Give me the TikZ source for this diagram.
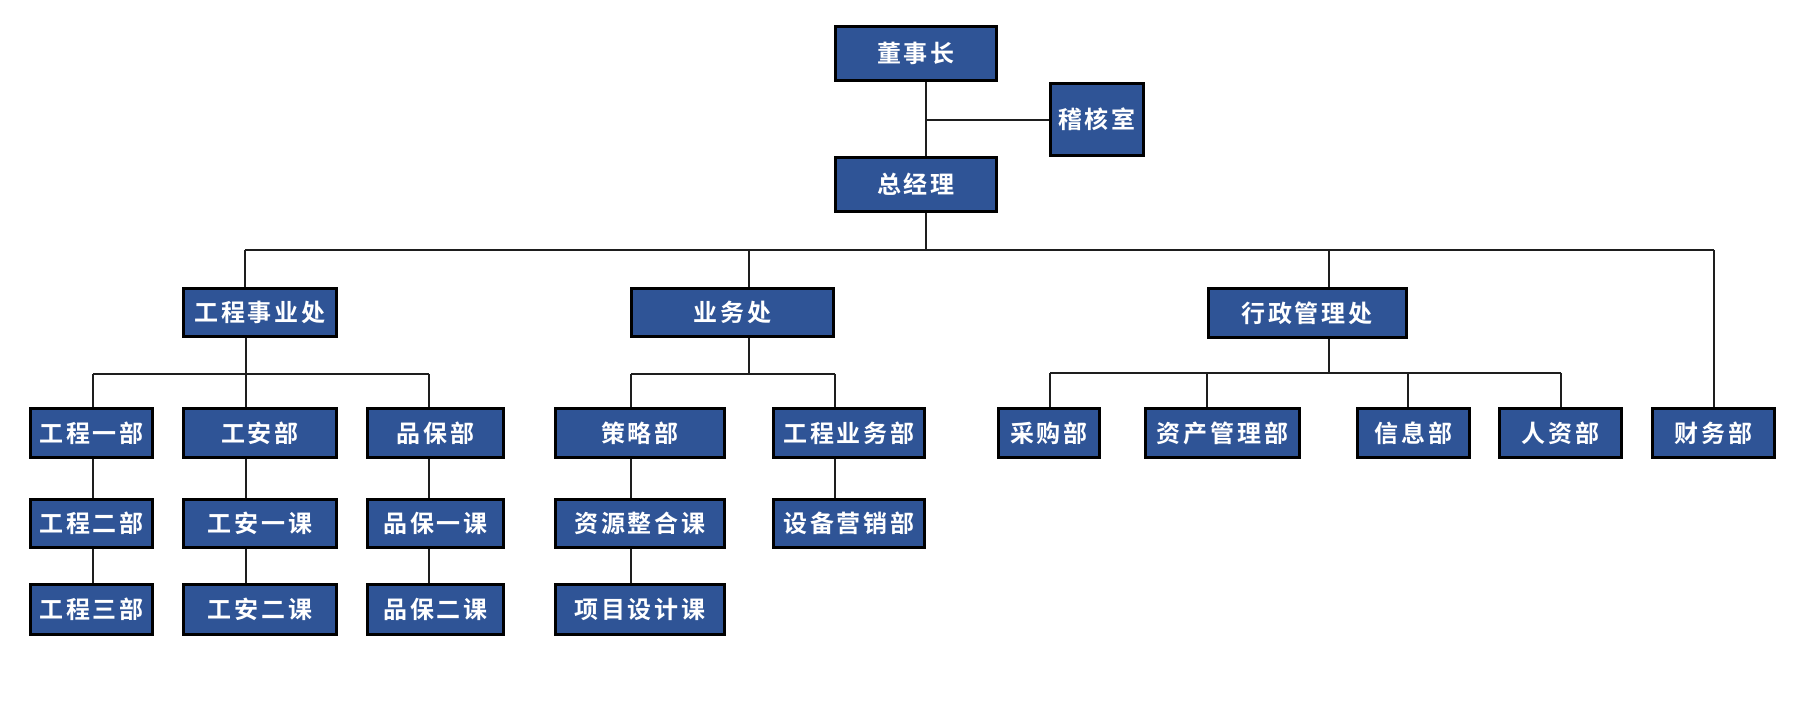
\documentclass[tikz,border=0pt]{standalone}
\usepackage{fontspec}
\newfontfamily\cjk{Noto Sans CJK SC Bold}[LetterSpace=12]
\definecolor{boxblue}{RGB}{47,84,150}
\definecolor{linecol}{RGB}{30,30,30}
\begin{document}
\begin{tikzpicture}[x=0.5pt,y=-0.5pt,
  box/.style={draw=black, line width=1.5pt, fill=boxblue, text=white, inner sep=0pt,
    font=\cjk\fontsize{12pt}{13pt}\selectfont, anchor=center},
  link/.style={draw=linecol, line width=1pt}]
\useasboundingbox (0,0) rectangle (1796,704);
\newcommand\bx[6]{\node[box, minimum width={(#4-3)*0.5pt}, minimum height={(#5-3)*0.5pt}] (#1) at (#2,#3) {#6};}
% top
\bx{ceo}{916}{53.5}{164}{57}{董事长}
\bx{audit}{1097}{119.5}{96}{75}{稽核室}
\bx{gm}{916}{184.5}{164}{57}{总经理}
% level 2
\bx{eng}{260}{312.5}{156}{51}{工程事业处}
\bx{biz}{732.5}{312.5}{205}{51}{业务处}
\bx{adm}{1307}{313}{201}{52}{行政管理处}
% row 1
\bx{e1}{91.5}{433}{125}{52}{工程一部}
\bx{es}{260}{433}{156}{52}{工安部}
\bx{qa}{435.5}{433}{139}{52}{品保部}
\bx{st}{640}{433}{172}{52}{策略部}
\bx{eb}{849}{433}{154}{52}{工程业务部}
\bx{pu}{1049}{433}{104}{52}{采购部}
\bx{as}{1222.5}{433}{157}{52}{资产管理部}
\bx{inf}{1413.5}{433}{115}{52}{信息部}
\bx{hr}{1560.5}{433}{125}{52}{人资部}
\bx{fin}{1713.5}{433}{125}{52}{财务部}
% row 2
\bx{e2}{91.5}{523.5}{125}{51}{工程二部}
\bx{es1}{260}{523.5}{156}{51}{工安一课}
\bx{qa1}{435.5}{523.5}{139}{51}{品保一课}
\bx{rs}{640}{523.5}{172}{51}{资源整合课}
\bx{sm}{849}{523.5}{154}{51}{设备营销部}
% row 3
\bx{e3}{91.5}{609.5}{125}{53}{工程三部}
\bx{es2}{260}{609.5}{156}{53}{工安二课}
\bx{qa2}{435.5}{609.5}{139}{53}{品保二课}
\bx{pd}{640}{609.5}{172}{53}{项目设计课}

% junction coordinates
\coordinate (jA) at (926,120);
\coordinate (jTop) at (926,250);
\coordinate (dEng) at (245,250);
\coordinate (dBiz) at (749,250);
\coordinate (dAdm) at (1329,250);
\coordinate (dFin) at (1714,250);
\coordinate (jEng) at (246,374);
\coordinate (bE1) at (93,374);
\coordinate (bQa) at (429,374);
\coordinate (jBiz) at (749,374);
\coordinate (bSt) at (631,374);
\coordinate (bEb) at (835,374);
\coordinate (jAdm) at (1329,373);
\coordinate (bPu) at (1050,373);
\coordinate (bAs) at (1207,373);
\coordinate (bInf) at (1408,373);
\coordinate (bHr) at (1561,373);

% top connectors
\draw[link] (ceo.south -| jA) -- (gm.north -| jA);
\draw[link] (jA) -- (audit.west |- jA);
\draw[link] (gm.south -| jTop) -- (jTop);
\draw[link] (dEng) -- (dFin);
\draw[link] (dEng) -- (eng.north -| dEng);
\draw[link] (dBiz) -- (biz.north -| dBiz);
\draw[link] (dAdm) -- (adm.north -| dAdm);
\draw[link] (dFin) -- (fin.north -| dFin);

% engineering
\draw[link] (eng.south -| jEng) -- (jEng);
\draw[link] (bE1) -- (bQa);
\draw[link] (bE1) -- (e1.north -| bE1);
\draw[link] (jEng) -- (es.north -| jEng);
\draw[link] (bQa) -- (qa.north -| bQa);
\draw[link] (e1.south -| bE1) -- (e2.north -| bE1);
\draw[link] (e2.south -| bE1) -- (e3.north -| bE1);
\draw[link] (es.south -| jEng) -- (es1.north -| jEng);
\draw[link] (es1.south -| jEng) -- (es2.north -| jEng);
\draw[link] (qa.south -| bQa) -- (qa1.north -| bQa);
\draw[link] (qa1.south -| bQa) -- (qa2.north -| bQa);

% business
\draw[link] (biz.south -| jBiz) -- (jBiz);
\draw[link] (bSt) -- (bEb);
\draw[link] (bSt) -- (st.north -| bSt);
\draw[link] (bEb) -- (eb.north -| bEb);
\draw[link] (st.south -| bSt) -- (rs.north -| bSt);
\draw[link] (rs.south -| bSt) -- (pd.north -| bSt);
\draw[link] (eb.south -| bEb) -- (sm.north -| bEb);

% administration
\draw[link] (adm.south -| jAdm) -- (jAdm);
\draw[link] (bPu) -- (bHr);
\draw[link] (bPu) -- (pu.north -| bPu);
\draw[link] (bAs) -- (as.north -| bAs);
\draw[link] (bInf) -- (inf.north -| bInf);
\draw[link] (bHr) -- (hr.north -| bHr);
\end{tikzpicture}
\end{document}
